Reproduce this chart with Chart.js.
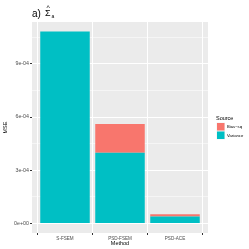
<!DOCTYPE html>
<html>
<head>
<meta charset="utf-8">
<script src="https://cdn.jsdelivr.net/npm/chart.js@4.4.0/dist/chart.umd.min.js"></script>
<style>
    html, body { margin: 0; padding: 0; background: #fff; }
    #wrap { width: 249px; height: 249px; }
</style>
</head>
<body>
<div id="wrap"><canvas id="chart" width="249" height="249"></canvas></div>
<script>
// Categories and series
const methods = ['S-FSEM', 'PSD-FSEM', 'PSD-ACE'];
const variance = [1.082e-3, 3.98e-4, 3.9e-5];
const biasSq = [0, 1.63e-4, 1.3e-5];

// y axis ticks (major ones get a label, minor ones only a grid line)
const yTicks = [0, 1.5e-4, 3e-4, 4.5e-4, 6e-4, 7.5e-4, 9e-4, 1.05e-3];
const yMajor = [0, 3e-4, 6e-4, 9e-4];

const FONT = 'Liberation Sans, Arial, sans-serif';

/*
    ggplot style scientific labels, e.g. 9e-04
*/
function sci(v) {
    if (v === 0) return '0e+00';
    let e = Math.floor(Math.log10(Math.abs(v)) + 1e-9);
    let m = Math.round(v / Math.pow(10, e));
    return m + 'e' + (e < 0 ? '-' : '+') + String(Math.abs(e)).padStart(2, '0');
}

function isMajor(v) {
    return yMajor.some(m => Math.abs(m - v) < 1e-9);
}

// bars sit on a numeric x axis (index of the method) so the
// discrete ggplot padding of 0.6 can be reproduced
function toPoints(values) {
    return values.map((v, i) => ({ x: i, y: v }));
}

/*
    Panel background, like theme_grey
*/
const panelBg = {
    id: 'panelBg',
    beforeDraw(chart) {
        const { ctx, chartArea: a } = chart;
        ctx.save();
        ctx.fillStyle = '#EBEBEB';
        ctx.fillRect(a.left, a.top, a.right - a.left, a.bottom - a.top);
        ctx.restore();
    }
};

/*
    Title "a) Sigma hat, subscript a"
*/
const plotTitle = {
    id: 'plotTitle',
    afterDraw(chart) {
        const ctx = chart.ctx;
        ctx.save();
        ctx.fillStyle = '#000';
        ctx.textBaseline = 'alphabetic';
        ctx.font = '10px ' + FONT;
        ctx.fillText('a)', 32, 17);
        ctx.font = '9px ' + FONT;
        ctx.fillText('\u03A3', 45, 16);
        ctx.font = '7px ' + FONT;
        ctx.fillText('^', 46.5, 10);
        ctx.font = '5px ' + FONT;
        ctx.fillText('a', 51.5, 18);
        ctx.restore();
    }
};

/*
    Legend on the right, ggplot look
*/
const sideLegend = {
    id: 'sideLegend',
    afterDraw(chart) {
        const ctx = chart.ctx;
        const sets = chart.data.datasets.slice().reverse();
        ctx.save();
        ctx.fillStyle = '#000';
        ctx.textBaseline = 'middle';
        ctx.font = '5.5px ' + FONT;
        ctx.fillText('Source', 216, 118);
        sets.forEach((ds, i) => {
            let y = 122.5 + i * 8.5;
            ctx.fillStyle = '#F2F2F2';
            ctx.fillRect(216.5, y, 8.5, 8.5);
            ctx.fillStyle = ds.backgroundColor;
            ctx.fillRect(217, y + 0.5, 7.5, 7.5);
            ctx.fillStyle = '#000';
            ctx.font = '4.2px ' + FONT;
            ctx.fillText(ds.label, 227, y + 4.5);
        });
        ctx.restore();
    }
};

new Chart(document.getElementById('chart'), {
    type: 'bar',
    data: {
        datasets: [
            { label: 'Variance', data: toPoints(variance), backgroundColor: '#00BFC4' },
            { label: 'Bias\u2212sq', data: toPoints(biasSq), backgroundColor: '#F8766D' }
        ]
    },
    options: {
        responsive: false,
        animation: false,
        devicePixelRatio: 1,
        layout: { padding: { top: 22, right: 41, left: 0, bottom: 0 } },
        datasets: {
            bar: { categoryPercentage: 0.9, barPercentage: 1, borderWidth: 0 }
        },
        plugins: {
            legend: { display: false },
            tooltip: { enabled: false }
        },
        scales: {
            x: {
                type: 'linear',
                stacked: true,
                min: -0.6,
                max: methods.length - 0.4,
                offset: false,
                grid: { color: '#FFFFFF', lineWidth: 1, tickColor: '#333333', tickLength: 2 },
                border: { display: false },
                afterBuildTicks(scale) { scale.ticks = methods.map((m, i) => ({ value: i })); },
                ticks: {
                    color: '#4D4D4D',
                    font: { family: FONT, size: 4.6 },
                    padding: 1,
                    maxRotation: 0,
                    autoSkip: false,
                    callback: v => methods[v]
                },
                title: { display: true, text: 'Method', color: '#000', font: { family: FONT, size: 5.5 }, padding: { top: 0, bottom: 2 } },
                afterFit(scale) { scale.height = 16; }
            },
            y: {
                stacked: true,
                min: -5.4e-5,
                max: 1.136e-3,
                grid: {
                    color: '#FFFFFF',
                    lineWidth: c => isMajor(c.tick.value) ? 1 : 0.5,
                    tickColor: c => isMajor(c.tick.value) ? '#333333' : 'rgba(0,0,0,0)',
                    tickLength: 2
                },
                border: { display: false },
                afterBuildTicks(scale) { scale.ticks = yTicks.map(v => ({ value: v })); },
                ticks: {
                    color: '#4D4D4D',
                    font: { family: FONT, size: 5.3 },
                    padding: 1,
                    callback: v => isMajor(v) ? sci(v) : ''
                },
                title: { display: true, text: 'MSE', color: '#000', font: { family: FONT, size: 5.5 }, padding: { top: 2, bottom: 0 } },
                afterFit(scale) { scale.width = 32; }
            }
        }
    },
    plugins: [panelBg, plotTitle, sideLegend]
});
</script>
</body>
</html>
